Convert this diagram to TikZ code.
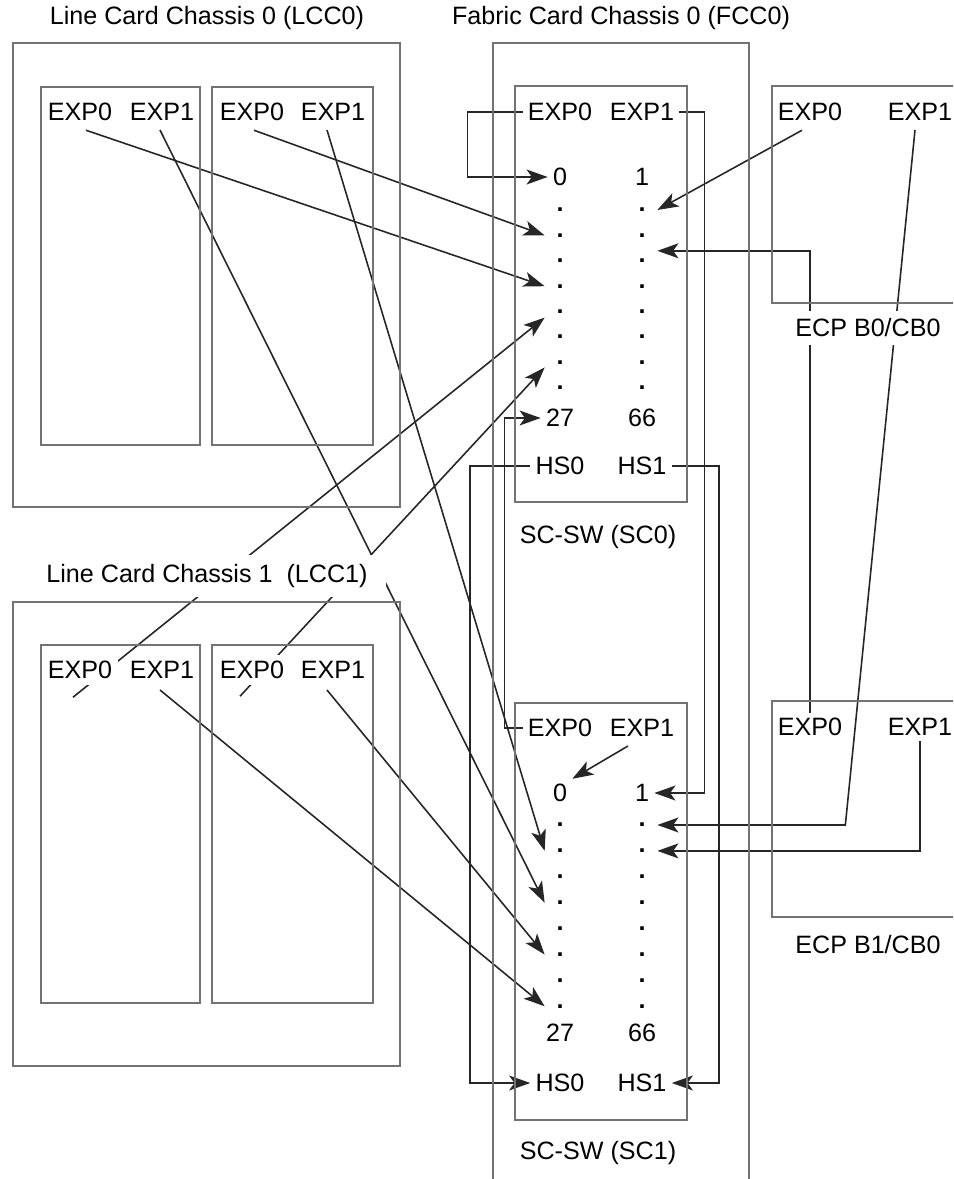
\documentclass[tikz,border=0pt]{standalone}
\usepackage{fontspec}
\setmainfont{Liberation Sans}
\usetikzlibrary{arrows.meta,calc,backgrounds}

\begin{document}
\begin{tikzpicture}[x=0.02cm,y=-0.02cm]
\tikzstyle{every node}+=[inner sep=0.1cm,font=\fontsize{14.3}{17}\selectfont]
\tikzstyle{box}=[draw=black!55,line width=1pt]
\tikzstyle{wire}=[draw=black!85,line width=0.9pt]
\tikzstyle{arr}=[wire,-{Stealth[length=12pt,width=8.5pt,inset=3pt]}]
\tikzstyle{knockout}=[fill=white]
\tikzstyle{portdot}=[inner sep=0pt,minimum width=0.6cm,font=\fontsize{14.3}{17}\selectfont\bfseries]
\useasboundingbox (0,0) rectangle (953,1179);
\clip (0,0) rectangle (953,1179);
\node (lcc0) at (207,18) {Line Card Chassis 0 (LCC0)};
\node (fcc0) at (621,18) {Fabric Card Chassis 0 (FCC0)};
\node [knockout,inner xsep=0.36cm,inner ysep=0.19cm] (lcc1) at (207,576) {Line Card Chassis 1\ \ (LCC1)};
\foreach \n/\x/\lab in {a0/80/EXP0,a1/162/EXP1,b0/252/EXP0,b1/333/EXP1}
  \node (l0\n) at (\x,112) {\lab};
\node [knockout,inner sep=0.12cm] (l1a0) at (80,670) {EXP0};
\node (l1a1) at (162,670) {EXP1};
\node [knockout,inner sep=0.12cm] (l1b0) at (252,670) {EXP0};
\node (l1b1) at (333,670) {EXP1};
\node (s0e0) at (560,112) {EXP0};
\node (s0e1) at (642,112) {EXP1};
\node (s0n0) at (560,177) {0};
\node (s0n1) at (642,177) {1};
\node (s0n27) at (560,418) {27};
\node (s0n66) at (642,418) {66};
\node (s0h0) at (560,466) {HS0};
\node (s0h1) at (642,466) {HS1};
\node (sc0) at (598,537) {SC-SW (SC0)};
\node (s1e0) at (560,728) {EXP0};
\node (s1e1) at (642,728) {EXP1};
\node (s1n0) at (560,793) {0};
\node (s1n1) at (642,793) {1};
\node (s1n27) at (560,1033) {27};
\node (s1n66) at (642,1033) {66};
\node (s1h0) at (560,1083) {HS0};
\node (s1h1) at (642,1083) {HS1};
\node (sc1) at (598,1153) {SC-SW (SC1)};
\foreach \i in {1,...,8}{
  \node [portdot] (s0l\i) at (560,{210+25.4*(\i-1)}) {.};
  \node [portdot] (s0r\i) at (642,{210+25.4*(\i-1)}) {.};
  \node [portdot] (s1l\i) at (560,{825+25.9*(\i-1)}) {.};
  \node [portdot] (s1r\i) at (642,{825+25.9*(\i-1)}) {.};
}
\node (e0e0) at (810,112) {EXP0};
\node (e0e1) at (920,112) {EXP1};
\node [knockout,inner xsep=0.34cm,inner ysep=0.16cm] (ecp0) at (868,328) {ECP B0/CB0};
\node (e1e0) at (810,727) {EXP0};
\node (e1e1) at (920,727) {EXP1};
\node (ecp1) at (868,945) {ECP B1/CB0};
\draw [box] (13,43) rectangle (400,507);
\draw [box] (41,87) rectangle (200,445);
\draw [box] (212,87) rectangle (373,445);
\draw [box] (13,602) rectangle (400,1066);
\draw [box] (41,645) rectangle (200,1003);
\draw [box] (212,645) rectangle (373,1003);
\draw [box] (493,43) rectangle (749,1200);
\draw [box] (515,86) rectangle (687,502);
\draw [box] (515,703) rectangle (687,1120);
\draw [box] (772,86) rectangle (980,303);
\draw [box] (772,701) rectangle (980,917);
\begin{scope}[on background layer]
\draw [arr] ($(l0a0.south)+(6,4)$) -- (s0l4.west);
\draw [arr] ($(l0b0.south)+(2,4)$) -- (s0l2.west);
\draw [arr] ($(l0a1.south)+(-2,4)$) -- (s1l4.west);
\draw [arr] ($(l0b1.south)+(-6,4)$) -- (s1l2.west);
\draw [arr] ($(l1a0.south)+(-7,12)$) -- ($(s0l5.west)+(0,6)$);
\draw [arr] ($(l1b0.south)+(-12,11)$) -- ($(s0l7.west)+(0,5)$);
\draw [arr] ($(l1a1.south)+(-2,6)$) -- (s1l8.west);
\draw [arr] ($(l1b1.south)+(-6,6)$) -- (s1l6.west);
\draw [arr] (s0e0.west) -- ++(-55,0) |- (s0n0.west);
\draw [arr] (s0e1.east) -- ++(25,0) |- (s1n1.east);
\draw [arr] (s0h0.west) -- ++(-60,0) |- (s1h0.west);
\draw [arr] (s0h1.east) -- ++(47,0) |- (s1h1.east);
\draw [arr] (s1e0.west) -- ++(-18,0) |- (s0n27.west);
\draw [arr] ($(s1e1.south)+(-14,4)$) -- (s1n0.north east);
\draw [arr] ($(e0e0.south)+(-8,4)$) -- (s0r1.east);
\draw [arr] (e1e0.north) |- ($(s0r3.east)+(0,-10)$);
\draw [arr] ($(e0e1.south)+(-5,4)$) -- ($(s1r1.east)+(188,0)$) -- (s1r1.east);
\draw [arr] (e1e1.south) |- (s1r2.east);
\end{scope}
\end{tikzpicture}
\end{document}
